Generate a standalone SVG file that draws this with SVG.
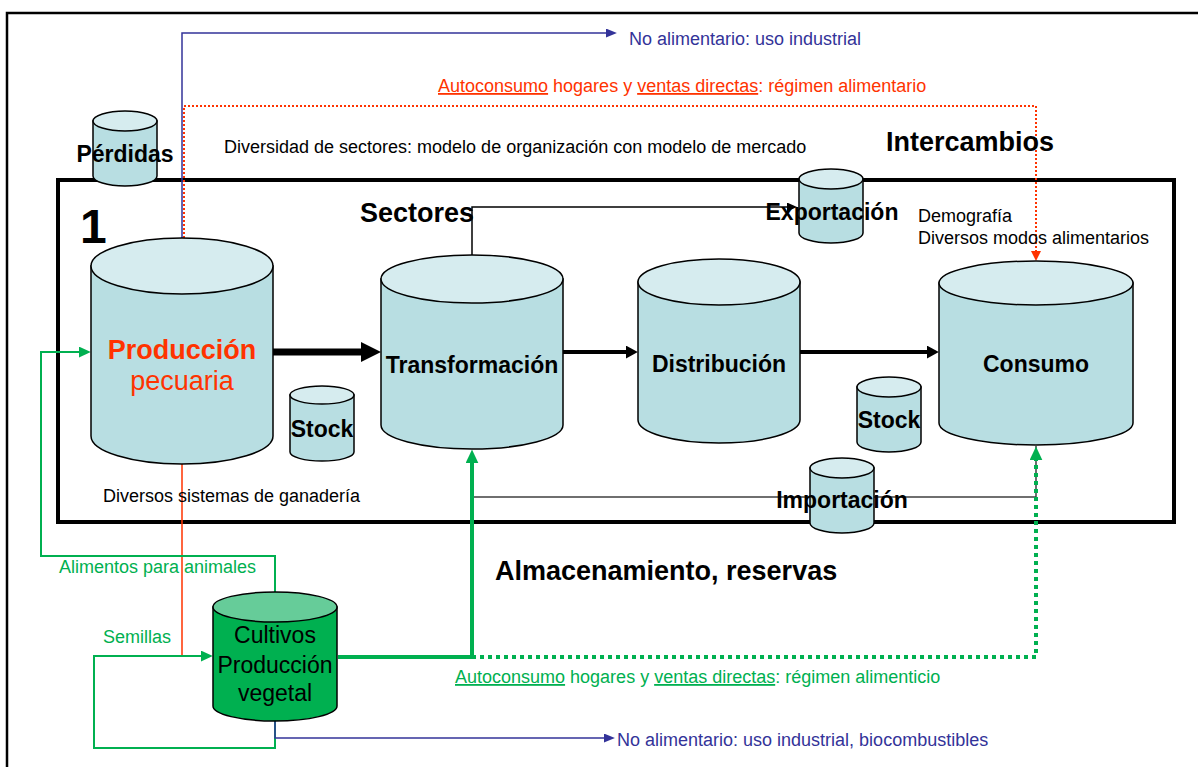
<svg xmlns="http://www.w3.org/2000/svg" width="1198" height="767" viewBox="0 0 1198 767">
<style>
text{font-family:"Liberation Sans",Arial,sans-serif}
.body{fill:#b8dee2;stroke:#000;stroke-width:1.5}
.top{fill:#d6ecef;stroke:#000;stroke-width:1.5}
.gbody{fill:#00b050;stroke:#000;stroke-width:1.5}
.gtop{fill:#66cc99;stroke:#000;stroke-width:1.5}
.lbl{font-size:23px;font-weight:bold;fill:#000;text-anchor:middle}
.t18{font-size:18px;fill:#000}
.red{fill:#ff3300}
.grn{fill:#00b050}
.blu{fill:#333399}
.big{font-size:27px;font-weight:bold;fill:#000}
.c{fill:none}
</style>
<defs>
<marker id="mBig" viewBox="0 0 10 10" refX="1" refY="5" markerWidth="20" markerHeight="20" markerUnits="userSpaceOnUse" orient="auto" preserveAspectRatio="none"><path d="M0,0L10,5L0,10z" fill="#000"/></marker>
<marker id="mMid" viewBox="0 0 10 10" refX="1" refY="5" markerWidth="12" markerHeight="13" markerUnits="userSpaceOnUse" orient="auto" preserveAspectRatio="none"><path d="M0,0L10,5L0,10z" fill="#000"/></marker>
<marker id="mSm" viewBox="0 0 10 10" refX="1" refY="5" markerWidth="10" markerHeight="9" markerUnits="userSpaceOnUse" orient="auto" preserveAspectRatio="none"><path d="M0,0L10,5L0,10z" fill="#000"/></marker>
<marker id="mBlue" viewBox="0 0 10 10" refX="1" refY="5" markerWidth="11" markerHeight="9" markerUnits="userSpaceOnUse" orient="auto" preserveAspectRatio="none"><path d="M0,0L10,5L0,10z" fill="#333399"/></marker>
<marker id="mRed" viewBox="0 0 10 10" refX="1" refY="5" markerWidth="10" markerHeight="10" markerUnits="userSpaceOnUse" orient="auto" preserveAspectRatio="none"><path d="M0,0L10,5L0,10z" fill="#ff3300"/></marker>
<marker id="mGrn" viewBox="0 0 10 10" refX="1" refY="5" markerWidth="12" markerHeight="11" markerUnits="userSpaceOnUse" orient="auto" preserveAspectRatio="none"><path d="M0,0L10,5L0,10z" fill="#00b050"/></marker>
<marker id="mGrnB" viewBox="0 0 10 10" refX="1" refY="5" markerWidth="14" markerHeight="13" markerUnits="userSpaceOnUse" orient="auto" preserveAspectRatio="none"><path d="M0,0L10,5L0,10z" fill="#00b050"/></marker>
</defs>
<rect width="1198" height="767" fill="#fff"/>
<g id="frame">
<rect x="7" y="13" width="1260" height="800" fill="none" stroke="#000" stroke-width="2.5"/>
<rect x="58" y="180" width="1116" height="342" fill="none" stroke="#000" stroke-width="4"/>
</g>
<g id="connectors" class="c">
<path d="M182,238V33H607" stroke="#333399" stroke-width="1.5" fill="none" marker-end="url(#mBlue)"/>
<path d="M184,238V106H1036V252" stroke="#ff3300" stroke-width="2" stroke-dasharray="2 2" fill="none" marker-end="url(#mRed)"/>
<path d="M472,255V207H788" stroke="#000" stroke-width="1.5" fill="none" marker-end="url(#mSm)"/>
<path d="M273,352H363" stroke="#000" stroke-width="7" fill="none" marker-end="url(#mBig)"/>
<path d="M563,352H627" stroke="#000" stroke-width="4" fill="none" marker-end="url(#mMid)"/>
<path d="M800,352H928" stroke="#000" stroke-width="4" fill="none" marker-end="url(#mMid)"/>
<path d="M472,497H1036V446" stroke="#404040" stroke-width="1.5" fill="none"/>
<path d="M182,464V656H205" stroke="#ff3300" stroke-width="1.5" fill="none"/>
<path d="M275,592V556H41V352H80" stroke="#00b050" stroke-width="2" fill="none" marker-end="url(#mGrn)"/>
<path d="M275,721V748H94V656H202" stroke="#00b050" stroke-width="2" fill="none" marker-end="url(#mGrn)"/>
<path d="M338,657H472V462" stroke="#00b050" stroke-width="4" fill="none" marker-end="url(#mGrnB)"/>
<path d="M472,657H1036V459" stroke="#00b050" stroke-width="4" stroke-dasharray="4 4" fill="none" marker-end="url(#mGrnB)"/>
<path d="M275,721V738H605" stroke="#333399" stroke-width="1.5" fill="none" marker-end="url(#mBlue)"/>
</g>
<g id="perdidas">
<path class="body" d="M93,121V176A32,10 0 0 0 157,176V121Z"/>
<ellipse class="top" cx="125" cy="121" rx="32" ry="10"/>
<text class="lbl" x="125" y="162">Pérdidas</text>
</g>
<g id="produccion-pecuaria">
<path class="body" d="M91,266V436A91,28 0 0 0 273,436V266Z"/>
<ellipse class="top" cx="182" cy="266" rx="91" ry="28"/>
<text x="182" y="359" font-size="27" font-weight="bold" text-anchor="middle" class="red">Producción</text>
<text x="182" y="390" font-size="27" text-anchor="middle" class="red">pecuaria</text>
</g>
<g id="stock1">
<path class="body" d="M290,395V452A32,9 0 0 0 354,452V395Z"/>
<ellipse class="top" cx="322" cy="395" rx="32" ry="9"/>
<text class="lbl" x="322" y="437">Stock</text>
</g>
<g id="transformacion">
<path class="body" d="M381,279V425A91,24 0 0 0 563,425V279Z"/>
<ellipse class="top" cx="472" cy="279" rx="91" ry="24"/>
<text class="lbl" x="472" y="373">Transformación</text>
</g>
<g id="distribucion">
<path class="body" d="M638,282V420A81,23 0 0 0 800,420V282Z"/>
<ellipse class="top" cx="719" cy="282" rx="81" ry="23"/>
<text class="lbl" x="719" y="372">Distribución</text>
</g>
<g id="consumo">
<path class="body" d="M939,283V423A97,22 0 0 0 1133,423V283Z"/>
<ellipse class="top" cx="1036" cy="283" rx="97" ry="22"/>
<text class="lbl" x="1036" y="372">Consumo</text>
</g>
<g id="stock2">
<path class="body" d="M857,387V442A32,10 0 0 0 921,442V387Z"/>
<ellipse class="top" cx="889" cy="387" rx="32" ry="10"/>
<text class="lbl" x="889" y="428">Stock</text>
</g>
<g id="importacion">
<path class="body" d="M810,468V523A32,10 0 0 0 874,523V468Z"/>
<ellipse class="top" cx="842" cy="468" rx="32" ry="10"/>
<text class="lbl" x="842" y="508">Importación</text>
</g>
<g id="exportacion">
<path class="body" d="M799,179V233A32,10 0 0 0 863,233V179Z"/>
<ellipse class="top" cx="831" cy="179" rx="32" ry="10"/>
<text class="lbl" x="832" y="220">Exportación</text>
</g>
<g id="cultivos">
<path class="gbody" d="M213,607V706A62,15 0 0 0 337,706V607Z"/>
<ellipse class="gtop" cx="275" cy="607" rx="62" ry="15"/>
<text x="275" y="643" font-size="23" text-anchor="middle" fill="#000">Cultivos</text>
<text x="275" y="673" font-size="23" text-anchor="middle" fill="#000">Producción</text>
<text x="275" y="701" font-size="23" text-anchor="middle" fill="#000">vegetal</text>
</g>
<g id="labels">
<text x="80" y="243" font-size="48" font-weight="bold" fill="#000">1</text>
<text class="big" x="886" y="151">Intercambios</text>
<text class="big" x="360" y="222">Sectores</text>
<text class="big" x="495" y="580">Almacenamiento, reservas</text>
<text class="t18 blu" x="629" y="45">No alimentario: uso industrial</text>
<text class="t18 red" x="438" y="92"><tspan text-decoration="underline">Autoconsumo</tspan> hogares y <tspan text-decoration="underline">ventas directas</tspan>: régimen alimentario</text>
<text class="t18" x="224" y="153">Diversidad de sectores: modelo de organización con modelo de mercado</text>
<text class="t18" x="918" y="222">Demografía</text>
<text class="t18" x="918" y="244">Diversos modos alimentarios</text>
<text class="t18" x="103" y="502">Diversos sistemas de ganadería</text>
<text class="t18 grn" x="59" y="573">Alimentos para animales</text>
<text class="t18 grn" x="103" y="643">Semillas</text>
<text class="t18 grn" x="455" y="683"><tspan text-decoration="underline">Autoconsumo</tspan> hogares y <tspan text-decoration="underline">ventas directas</tspan>: régimen alimenticio</text>
<text class="t18 blu" x="617" y="746">No alimentario: uso industrial, biocombustibles</text>
</g>
</svg>
